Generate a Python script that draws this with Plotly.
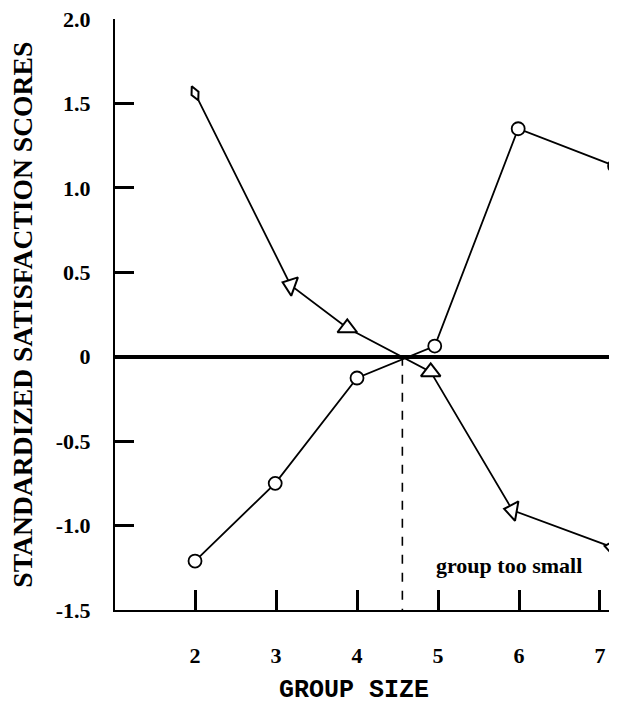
import plotly.graph_objects as go

# Data
circle_x = [2.0, 2.99, 4.0, 4.96, 5.99, 7.18]
circle_y = [-1.21, -0.75, -0.126, 0.063, 1.35, 1.13]

tri_x = [2.0, 3.18, 3.88, 4.91, 5.92, 7.16]
tri_y = [1.56, 0.424, 0.17, -0.09, -0.91, -1.13]
tri_symbols = ["diamond-tall", "triangle-up", "triangle-up", "triangle-up", "triangle-up", "triangle-up"]
tri_angles = [-25, -70, 0, 0, -80, -80]
tri_sizes = [11, 17, 17, 17, 17, 17]

cross_x = 4.56

x_ticks = [2, 3, 4, 5, 6, 7]
x_ticktext = ["2", "3", "4", "5", "6", "7"]
y_ticks = [2.0, 1.5, 1.0, 0.5, 0.0, -0.5, -1.0, -1.5]
y_ticktext = ["2.0", "1.5", "1.0", "0.5", "0", "-0.5", "-1.0", "-1.5"]

serif_bold = dict(family="Liberation Serif", size=22, color="black", weight="bold")

fig = go.Figure()

fig.add_trace(go.Scatter(
    x=tri_x, y=tri_y, mode="lines+markers",
    line=dict(color="black", width=1.8),
    marker=dict(symbol=tri_symbols, size=tri_sizes, angle=tri_angles,
                color="rgb(255,255,255)", opacity=1,
                line=dict(color="rgb(0,0,0)", width=2)),
    cliponaxis=False, showlegend=False,
))
fig.add_trace(go.Scatter(
    x=circle_x, y=circle_y, mode="lines+markers",
    line=dict(color="black", width=1.8),
    marker=dict(symbol="circle", size=13, color="white",
                line=dict(color="black", width=1.8)),
    cliponaxis=False, showlegend=False,
))

fig.add_shape(type="line", x0=cross_x, x1=cross_x, y0=0, y1=-1.5,
              xref="x", yref="y", line=dict(color="black", width=1.6, dash="dash"))

fig.add_annotation(x=5.88, y=-1.234, xref="x", yref="y", text="group too small",
                   showarrow=False, font=serif_bold, xanchor="center", yanchor="middle")

fig.add_annotation(x=-0.185, y=0.5, xref="paper", yref="paper",
                   text="STANDARDIZED SATISFACTION SCORES", textangle=-90,
                   showarrow=False, xanchor="center", yanchor="middle",
                   font=dict(family="Liberation Serif", size=27.6, color="black", weight="bold"))

fig.add_annotation(x=0.476, y=-0.136, xref="paper", yref="paper",
                   text="GROUP SIZE", showarrow=False, xanchor="center", yanchor="middle",
                   font=dict(family="Liberation Mono", size=25, color="black", weight="bold"))

fig.update_xaxes(range=[1.012, 7.21], showline=True, linecolor="black", linewidth=2,
                 ticks="inside", ticklen=20, tickwidth=3, tickcolor="black",
                 tickvals=x_ticks, ticktext=x_ticktext, tickfont=serif_bold,
                 ticklabelstandoff=25, showgrid=False, zeroline=False)
fig.update_yaxes(range=[-1.5, 2.0], showline=True, linecolor="black", linewidth=2,
                 ticks="inside", ticklen=19, tickwidth=3, tickcolor="black",
                 tickvals=y_ticks, ticktext=y_ticktext, tickfont=serif_bold,
                 ticklabelstandoff=18, ticklabeloverflow="allow", showgrid=False,
                 zeroline=True, zerolinecolor="black", zerolinewidth=4)

fig.update_layout(width=609, height=706, autosize=False,
                  margin=dict(l=107, r=0, t=11, b=104),
                  paper_bgcolor="white", plot_bgcolor="white")

fig.write_html("out.html")
